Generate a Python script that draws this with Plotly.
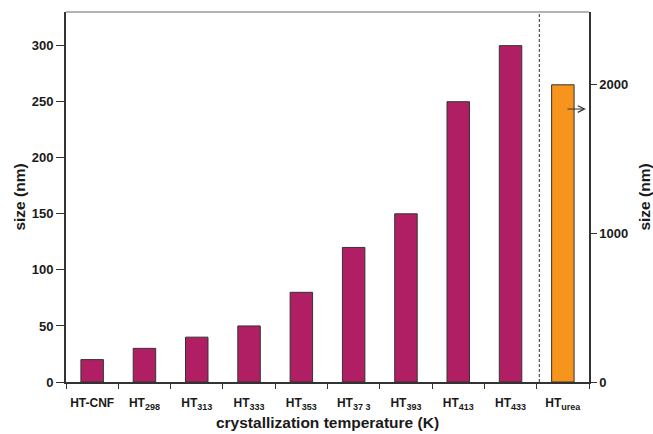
import plotly.graph_objects as go

# Sample names and subscripts (crystallization temperature or precursor)
names = ["HT-CNF", "HT", "HT", "HT", "HT", "HT", "HT", "HT", "HT", "HT"]
subscripts = ["", "298", "313", "333", "353", "37 3", "393", "413", "433", "urea"]
temp_series_sizes = [20, 30, 40, 50, 80, 120, 150, 250, 300]  # left axis (nm)
urea_size = [2000]                                            # right axis (nm)

left_ticks = [0, 50, 100, 150, 200, 250, 300]
right_ticks = [0, 1000, 2000]

MAGENTA = "#B01F63"
ORANGE = "#F7941E"
AXIS = "#333333"
FONT = "Liberation Sans, Arial, sans-serif"


def label(name, sub):
    if not sub:
        return name
    return f"{name}<sub><span style='font-size:9px'>{sub}</span></sub>"


categories = [label(n, s) for n, s in zip(names, subscripts)]

fig = go.Figure()

fig.add_trace(go.Bar(
    x=categories[:9], y=temp_series_sizes, width=0.43,
    marker=dict(color=MAGENTA, line=dict(color=AXIS, width=1)),
    yaxis="y", showlegend=False,
))
fig.add_trace(go.Bar(
    x=categories[9:], y=urea_size, width=0.43,
    marker=dict(color=ORANGE, line=dict(color=AXIS, width=1)),
    yaxis="y2", showlegend=False,
))

fig.update_layout(
    width=653, height=434,
    margin=dict(l=66, r=64, t=12, b=52),
    plot_bgcolor="white", paper_bgcolor="white",
    font=dict(family=FONT, color="#1a1a1a"),
    barmode="group",
    xaxis=dict(
        type="category", categoryorder="array", categoryarray=categories,
        range=[-0.5, 9.5], tickson="boundaries", tickangle=0, automargin=False,
        ticks="outside", ticklen=5, tickcolor=AXIS, tickwidth=1,
        ticklabelstandoff=9,
        showline=True, linecolor=AXIS, linewidth=1.5,
        showgrid=False, zeroline=False,
        tickfont=dict(size=12, family=FONT, weight="bold"),
        title=dict(text="<b>crystallization temperature (K)</b>",
                   font=dict(size=15.5, family=FONT), standoff=6),
    ),
    yaxis=dict(
        range=[0, 330], tickvals=left_ticks, automargin=False,
        ticks="outside", ticklen=8, tickcolor=AXIS, tickwidth=1,
        showline=True, linecolor=AXIS, linewidth=2,
        showgrid=False, zeroline=False,
        tickfont=dict(size=13, family=FONT, weight="bold"),
        title=dict(text="<b>size (nm)</b>",
                   font=dict(size=15.5, family=FONT), standoff=2),
    ),
    yaxis2=dict(
        overlaying="y", side="right", anchor="x", automargin=False,
        range=[0, 2490], tickvals=right_ticks,
        ticks="outside", ticklen=6, tickcolor=AXIS, tickwidth=1,
        showline=True, linecolor=AXIS, linewidth=1.5,
        showgrid=False, zeroline=False,
        tickfont=dict(size=13, family=FONT, weight="bold"),
        title=dict(text="<b>size (nm)</b>",
                   font=dict(size=15.5, family=FONT), standoff=16),
    ),
    # inner half of the crossing ticks on the right axis
    yaxis3=dict(
        overlaying="y", side="right", anchor="x", automargin=False,
        range=[0, 2490], tickvals=right_ticks,
        ticks="inside", ticklen=4, tickcolor=AXIS, tickwidth=1,
        showticklabels=False, showline=False,
        showgrid=False, zeroline=False,
    ),
    shapes=[
        # thin frame line along the top
        dict(type="line", xref="paper", yref="paper", x0=0, x1=1, y0=1, y1=1,
             line=dict(color="#9a9a9a", width=1.5)),
        # separator between the temperature series and the urea sample
        dict(type="line", xref="x", yref="paper", x0=8.55, x1=8.55, y0=0, y1=1,
             line=dict(color=AXIS, width=1, dash="3px,2px")),
    ],
    annotations=[
        # arrow pointing to the right-hand axis for the urea bar
        dict(xref="x", yref="y2", axref="x", ayref="y2",
             x=9.44, y=1837, ax=9.06, ay=1837, text="",
             showarrow=True, arrowhead=5, arrowsize=1.3, arrowwidth=1,
             arrowcolor=AXIS),
    ],
)

fig.write_html("out.html")
